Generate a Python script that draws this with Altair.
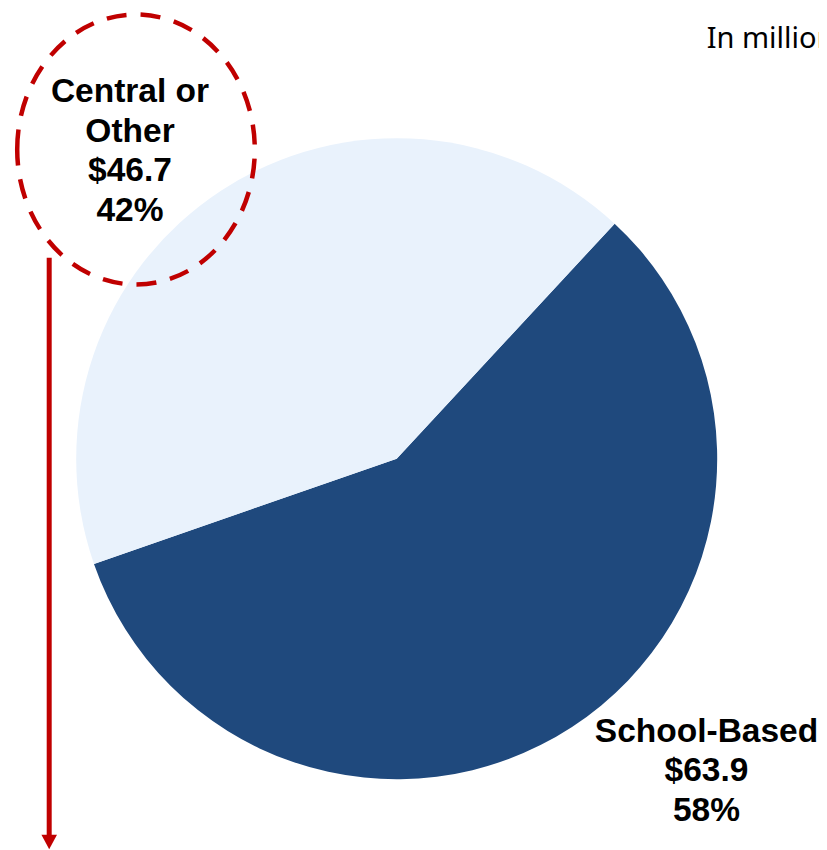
import altair as alt
import pandas as pd

# ---- data ----
categories = ["School-Based", "Central or Other"]
values = [63.9, 46.7]          # $ millions
percents = [58, 42]
label_lines = [["School-Based"], ["Central or", "Other"]]
slice_order = [1, 2]
note_text = "In millions"

df = pd.DataFrame({
    "category": categories,
    "value": values,
    "pct": percents,
    "order": slice_order,
    "label": ["\n".join(l + [f"${v:.1f}", f"{p}%"]) for l, v, p in zip(label_lines, values, percents)],
})

# ---- styles / layout ----
DARK = "#1F497D"
LIGHT = "#E9F2FC"
RED = "#C00000"
W, H = 811, 842
CX, CY, R = 388.7, 450.7, 320.5
START = 0.7477  # radians, clockwise from 12 o'clock
TWO_PI = 6.283185307179586
FONT = "Liberation Sans"

base = alt.Chart(df)

pie = base.mark_arc(outerRadius=R, stroke=None).encode(
    theta=alt.Theta("value:Q", stack=True, scale=alt.Scale(range=[START, START + TWO_PI])),
    color=alt.Color("category:N", scale=alt.Scale(domain=categories, range=[DARK, LIGHT]), legend=None),
    order=alt.Order("order:Q"),
    x=alt.value(CX),
    y=alt.value(CY),
)

def label_layer(cat, x, y):
    return base.transform_filter(alt.datum.category == cat).mark_text(
        font=FONT, fontSize=33.5, fontWeight="bold", color="black",
        align="center", baseline="alphabetic", lineBreak="\n", lineHeight=39.5,
    ).encode(text="label:N", x=alt.value(x), y=alt.value(y))

lab_school = label_layer("School-Based", 698.5, 733.7)
lab_central = label_layer("Central or Other", 122, 94)

# dashed ellipse around the "Central or Other" label
ellipse = base.transform_filter(alt.datum.category == "Central or Other").mark_point(
    shape="M -0.88 0 A 0.88 1 0 1 1 0.88 0 A 0.88 1 0 1 1 -0.88 0 Z",
    size=270 ** 2, filled=False, stroke=RED, strokeWidth=4.5, strokeDash=[20, 14], opacity=1,
).encode(x=alt.value(128), y=alt.value(141.5))

# red arrow pointing down
arrow_line = base.transform_filter(alt.datum.category == "Central or Other").mark_rule(
    color=RED, strokeWidth=5
).encode(x=alt.value(41.2), y=alt.value(249.7), y2=alt.value(829))

arrow_head = base.transform_filter(alt.datum.category == "Central or Other").mark_point(
    shape="M -1 -0.92 L 1 -0.92 L 0 0.92 Z", size=15.6 ** 2, filled=True,
    fill=RED, stroke=None, opacity=1,
).encode(x=alt.value(41.2), y=alt.value(834))

note = base.transform_filter(alt.datum.category == "Central or Other").mark_text(
    font="Noto Sans", fontSize=29, color="black", align="left", baseline="alphabetic",
    text=note_text,
).encode(x=alt.value(698.7), y=alt.value(40))

chart = alt.layer(pie, ellipse, arrow_line, arrow_head, lab_school, lab_central, note).properties(
    width=W, height=H, padding=0, autosize=alt.AutoSizeParams(type="none"),
    background="white",
).configure_view(stroke=None)

chart.save("out.html", embed_options={"renderer": "svg", "actions": False})
